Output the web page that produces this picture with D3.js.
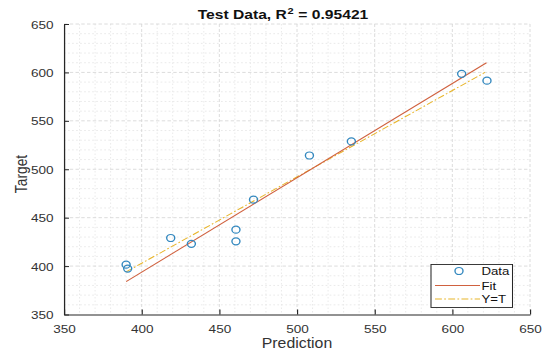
<!DOCTYPE html>
<html>
<head>
<meta charset="utf-8">
<script src="https://cdn.jsdelivr.net/npm/d3@7"></script>
<style>
  html, body { margin: 0; padding: 0; background: #fff; }
  svg { display: block; font-family: "Liberation Sans", Arial, Helvetica, sans-serif; }
</style>
</head>
<body>
<svg id="chart" width="548" height="356"></svg>
<script>
// Test-set regression: network prediction vs. target
const prediction = [390, 391, 418.7, 432, 460.7, 460.7, 472, 508, 535, 606, 622.3];
const target     = [401.5, 397.4, 429, 423, 437.6, 425.6, 468.6, 514.2, 528.7, 598.5, 591.5];

// Line end points [prediction, target]
const fitLine = [[390, 384], [622, 610]];
const refLine = [[390, 394], [621, 600]];

const xTicks = [350, 400, 450, 500, 550, 600, 650];
const yTicks = [350, 400, 450, 500, 550, 600, 650];
const legendLabels = ["Data", "Fit", "Y=T"];
const rSquared = "0.95421";

const colors = { data: "#3388bf", fit: "#d0613f", ref: "#e8b52a", axis: "#262626", text: "#333333" };

// The figure is laid out in a horizontally widened frame
const S = 1.15;
const svg = d3.select("#chart");
const g = svg.append("g").attr("transform", `scale(${S},1)`);

const plotL = 64 / S, plotR = 530 / S, plotT = 24, plotB = 314.5;

const x = d3.scaleLinear().domain([350, 650]).range([plotL, plotR]);
const y = d3.scaleLinear().domain([350, 650]).range([plotB, plotT]);

// Minor and major grid
const minor = d3.range(350, 651, 10).filter(v => v % 50 !== 0);
g.append("g").selectAll("line").data(minor).join("line")
  .attr("x1", d => x(d)).attr("x2", d => x(d)).attr("y1", plotT).attr("y2", plotB)
  .attr("stroke", "#e6e6e6").attr("stroke-width", 0.8).attr("stroke-dasharray", "1.5,2");
g.append("g").selectAll("line").data(minor).join("line")
  .attr("y1", d => y(d)).attr("y2", d => y(d)).attr("x1", plotL).attr("x2", plotR)
  .attr("stroke", "#e6e6e6").attr("stroke-width", 0.8).attr("stroke-dasharray", "1.5,2");
g.append("g").selectAll("line").data(xTicks.slice(1)).join("line")
  .attr("x1", d => x(d)).attr("x2", d => x(d)).attr("y1", plotT).attr("y2", plotB)
  .attr("stroke", "#d6d6d6").attr("stroke-width", 0.8).attr("stroke-dasharray", "3,2");
g.append("g").selectAll("line").data(yTicks.slice(1)).join("line")
  .attr("y1", d => y(d)).attr("y2", d => y(d)).attr("x1", plotL).attr("x2", plotR)
  .attr("stroke", "#d6d6d6").attr("stroke-width", 0.8).attr("stroke-dasharray", "3,2");

// Axes with inward ticks
const xAxis = g.append("g").attr("transform", `translate(0,${plotB})`)
  .call(d3.axisBottom(x).tickValues(xTicks).tickSizeInner(-5).tickSizeOuter(0).tickPadding(10));
const yAxis = g.append("g").attr("transform", `translate(${plotL},0)`)
  .call(d3.axisLeft(y).tickValues(yTicks).tickSizeInner(-5 / S).tickSizeOuter(0).tickPadding(9));
[xAxis, yAxis].forEach(a => {
  a.select(".domain").attr("stroke", colors.axis).attr("stroke-width", 1.1);
  a.selectAll(".tick line").attr("stroke", colors.axis).attr("stroke-width", 1);
  a.selectAll("text").attr("fill", colors.text).style("font-size", "11.8px").attr("font-family", null);
});
xAxis.selectAll("text").attr("dy", "0.71em");
yAxis.selectAll(".tick text").attr("dy", "0.35em");

// Regression lines
const line = d3.line().x(d => x(d[0])).y(d => y(d[1]));
g.append("path").datum(refLine).attr("d", line).attr("fill", "none")
  .attr("stroke", colors.ref).attr("stroke-width", 1).attr("stroke-dasharray", "6,2,1.5,2");
g.append("path").datum(fitLine).attr("d", line).attr("fill", "none")
  .attr("stroke", colors.fit).attr("stroke-width", 1);

// Data points
g.append("g").selectAll("circle").data(prediction).join("circle")
  .attr("cx", (d, i) => x(d)).attr("cy", (d, i) => y(target[i]))
  .attr("r", 3.5).attr("fill", "none").attr("stroke", colors.data).attr("stroke-width", 1.2);

// Title, laid out piece by piece so the superscript sits after "R"
const titleG = g.append("g").attr("fill", "#111").style("font-weight", "bold");
const parts = [
  { t: "Test Data, R", size: 13.6, dy: 0, gap: 0.6 },
  { t: "2", size: 9.6, dy: -5.5, gap: 0.3 },
  { t: "\u00A0= " + rSquared, size: 13.6, dy: 0, gap: 0 }
];
const nodes = parts.map(p => titleG.append("text").attr("y", 19.5 + p.dy)
  .style("font-size", p.size + "px").style("white-space", "pre").text(p.t));
const widths = nodes.map(n => n.node().getComputedTextLength());
const total = d3.sum(widths) + d3.sum(parts, p => p.gap);
let cx = 283 / S - total / 2;
nodes.forEach((n, i) => { n.attr("x", cx); cx += widths[i] + parts[i].gap; });

// Axis labels
g.append("text").attr("x", (plotL + plotR) / 2).attr("y", 348)
  .attr("text-anchor", "middle").attr("fill", colors.text).style("font-size", "13.8px").text("Prediction");
g.append("text").attr("transform", `translate(${27 / S},${174}) rotate(-90)`)
  .attr("text-anchor", "middle").attr("fill", colors.text).style("font-size", "13.8px").text("Target");

// Legend
const lg = g.append("g").attr("transform", `translate(${431 / S},264.5)`);
lg.append("rect").attr("width", 81.5 / S).attr("height", 43).attr("fill", "#fff")
  .attr("stroke", colors.axis).attr("stroke-width", 0.9);
const rowY = [6.5, 21, 34.5];
lg.append("circle").attr("cx", 28 / S).attr("cy", rowY[0]).attr("r", 3.5)
  .attr("fill", "none").attr("stroke", colors.data).attr("stroke-width", 1.2);
lg.append("line").attr("x1", 4 / S).attr("x2", 49 / S).attr("y1", rowY[1]).attr("y2", rowY[1])
  .attr("stroke", colors.fit).attr("stroke-width", 1);
lg.append("line").attr("x1", 4 / S).attr("x2", 49 / S).attr("y1", rowY[2]).attr("y2", rowY[2])
  .attr("stroke", colors.ref).attr("stroke-width", 1).attr("stroke-dasharray", "6,2,1.5,2");
lg.selectAll("text.lbl").data(legendLabels).join("text").attr("class", "lbl")
  .attr("x", 50.5 / S).attr("y", (d, i) => rowY[i]).attr("dy", "0.35em")
  .attr("fill", "#111").style("font-size", "11.5px").text(d => d);
</script>
</body>
</html>
